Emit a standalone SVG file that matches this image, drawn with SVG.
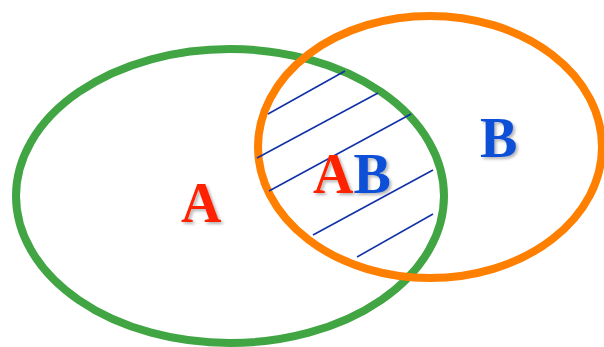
<svg xmlns="http://www.w3.org/2000/svg" width="604" height="347" viewBox="0 0 604 347">
<defs>
<filter id="sh" x="-20%" y="-20%" width="150%" height="150%">
<feDropShadow dx="2" dy="2" stdDeviation="1.5" flood-color="#000" flood-opacity="0.3"/>
</filter>
<style>
.set{fill:none;stroke-width:8}
.hatch{stroke:#1232a8;stroke-width:1.6;fill:none}
.lbl{font-family:"Liberation Serif","Times New Roman",serif;font-weight:bold;font-size:56px;filter:url(#sh)}
.red{fill:#ff2400}
.blue{fill:#0a4fd6}
</style>
</defs>
<rect width="604" height="347" fill="#fff"/>
<g id="setA">
<ellipse class="set" cx="230" cy="196" rx="214" ry="147" stroke="#41a543"/>
</g>
<g id="setB">
<ellipse class="set" cx="430" cy="147" rx="172" ry="131" stroke="#ff7f00"/>
</g>
<g id="hatching">
<line class="hatch" x1="268" y1="114" x2="345" y2="71"/>
<line class="hatch" x1="257" y1="158" x2="378" y2="93"/>
<line class="hatch" x1="269" y1="191" x2="411" y2="114"/>
<line class="hatch" x1="313" y1="235" x2="433" y2="170"/>
<line class="hatch" x1="357" y1="257" x2="433" y2="214"/>
</g>
<g id="labelA"><text class="lbl red" x="181" y="222">A</text></g>
<g id="labelAB"><text class="lbl" x="313" y="193"><tspan class="red">A</tspan><tspan class="blue">B</tspan></text></g>
<g id="labelB"><text class="lbl blue" x="480" y="157">B</text></g>
</svg>
